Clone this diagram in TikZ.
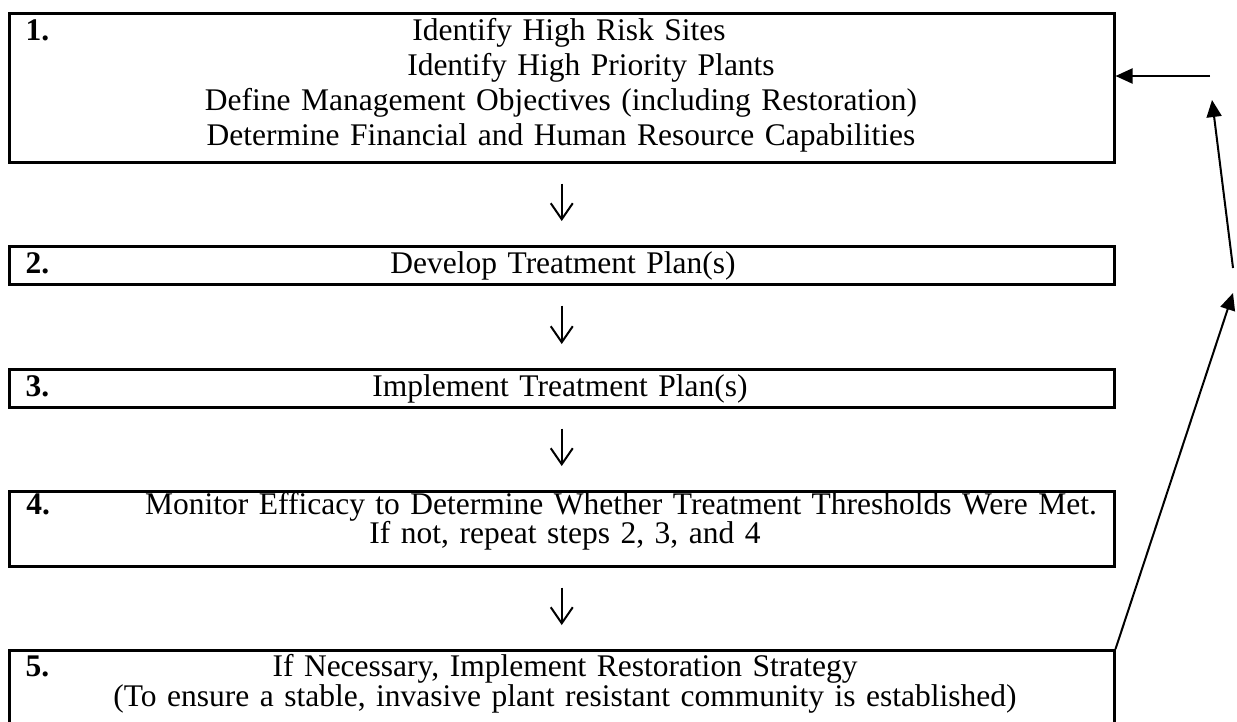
\documentclass[tikz,border=0pt]{standalone}
\usepackage{fontspec}
\setmainfont{Liberation Serif}
\usetikzlibrary{arrows.meta}

\begin{document}
\begin{tikzpicture}
[x=0.4pt, y=-0.4pt, every node/.style={inner sep=0pt},
 stepbox/.style={rectangle, draw=black, line width=1pt, anchor=north west, minimum width=1105*0.4pt},
 num/.style={anchor=base west, font=\fontsize{12.6}{14}\selectfont\bfseries},
 txt/.style={anchor=base, align=center, text width=1105*0.4pt, font=\fontsize{12.6}{14}\selectfont},
 down/.style={line width=0.8pt, -{Straight Barb[length=6.4pt,width=8.8pt]}, shorten <=20*0.4pt, shorten >=24*0.4pt},
 back/.style={line width=0.8pt, -{Triangle[length=6.8pt,width=6pt]}}]
\clip (0,0) rectangle (1237,721);
% the five steps
\node (b1) [stepbox, minimum height=149*0.4pt] at (8,12) {};
\node (b2) [stepbox, minimum height=38*0.4pt] at (8,245) {};
\node (b3) [stepbox, minimum height=38*0.4pt] at (8,368) {};
\node (b4) [stepbox, minimum height=75*0.4pt] at (8,490) {};
\node (b5) [stepbox, minimum height=81*0.4pt] at (8,649) {};
\node (n1) [num] at (25,40) {1.};
\node (n2) [num] at (25,273) {2.};
\node (n3) [num] at (25,396) {3.};
\node (n4) [num] at (26,514) {4.};
\node (n5) [num] at (25,676) {5.};
\node (t1) [txt] at (561,40) {\hspace*{6.4pt}Identify High Risk Sites\\\hspace*{24pt}Identify High Priority Plants\\Define Management Objectives (including Restoration)\\Determine Financial and Human Resource Capabilities};
\node (t2) [txt] at (563,273) {Develop Treatment Plan(s)};
\node (t3) [txt] at (560,396) {Implement Treatment Plan(s)};
\node (t4) [txt, font=\fontsize{12.6}{11.6}\selectfont] at (565,514) {\hspace*{44.8pt}Monitor Efficacy to Determine Whether Treatment Thresholds Were Met.\\If not, repeat steps 2, 3, and 4};
\node (t5) [txt, font=\fontsize{12.6}{12}\selectfont] at (565,676) {If Necessary, Implement Restoration Strategy\\(To ensure a stable, invasive plant resistant community is established)};
% down the steps
\draw [down] (b1.south) -- (b2.north);
\draw [down] (b2.south) -- (b3.north);
\draw [down] (b3.south) -- (b4.north);
\draw [down] (b4.south) -- (b5.north);
% back to step 1
\coordinate (r1) at (1210,76);
\coordinate (r2) at (1233,268);
\coordinate (r2tip) at (1212,100);
\coordinate (r3) at (1233,293);
\draw [back] (r1) -- (r1 -| b1.east);
\draw [back] (r2) -- (r2tip);
\draw [back] (b5.north east) -- (r3);
\end{tikzpicture}
\end{document}
